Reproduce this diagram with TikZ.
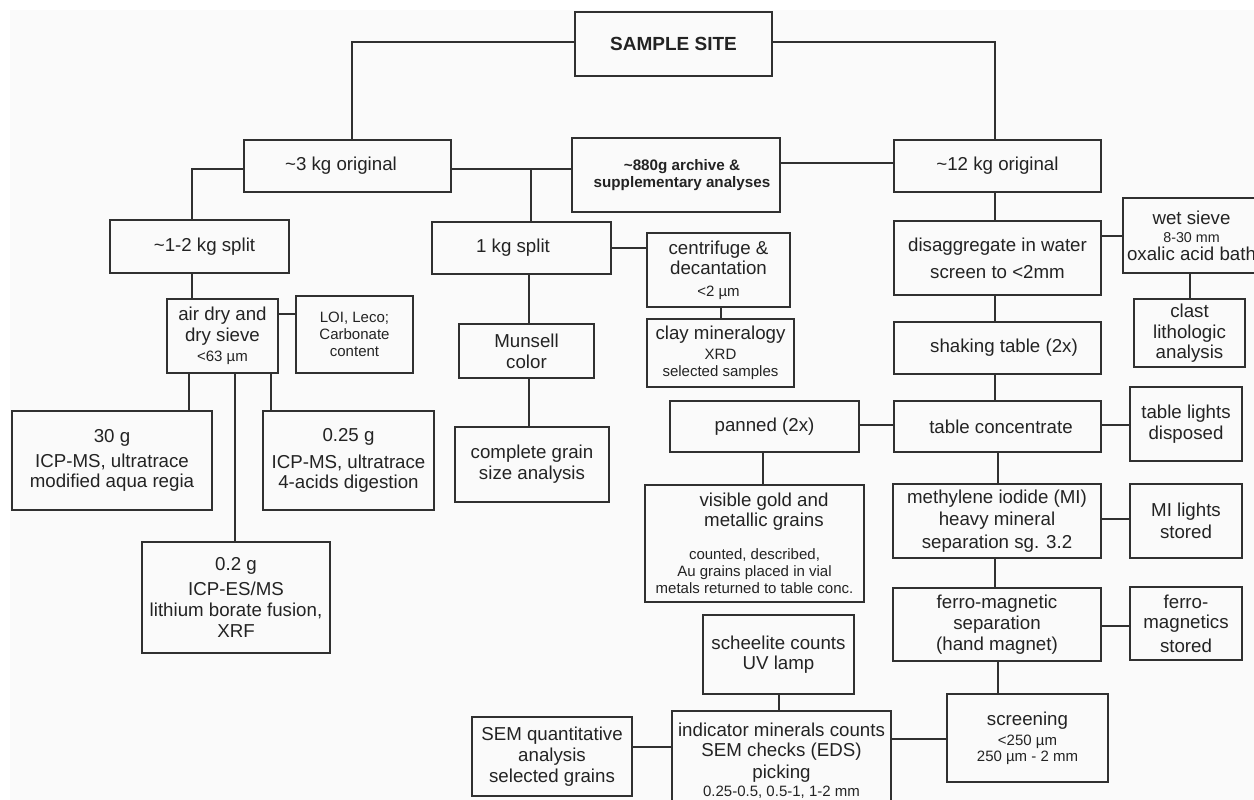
\documentclass[tikz,border=0pt]{standalone}
\usepackage{fontspec}
\setmainfont{Liberation Sans}
\definecolor{linec}{RGB}{48,48,48}
\definecolor{textc}{RGB}{35,35,35}
\definecolor{bgc}{RGB}{250,250,250}
\newcommand\fbig{\fontsize{18.7}{21}\selectfont}
\newcommand\fsm{\fontsize{15}{17}\selectfont}
\newcommand\fxs{\fontsize{14.3}{17}\selectfont}
\tikzset{
  box/.style={draw=linec, line width=1.4pt, inner sep=0pt, outer sep=0pt, align=center, text=textc, font=\fbig},
  conn/.style={draw=linec, line width=1.4pt},
}
\begin{document}
\begin{tikzpicture}[x=1pt,y=-1pt]
\path[use as bounding box] (0,0) rectangle (1254,800);
\clip (0,0) rectangle (1254,800);
\fill[bgc] (10,10) rectangle (1254,800);

\node[box, minimum width=197pt, minimum height=64pt, font=\fontsize{19}{21}\selectfont\bfseries] (ss) at (673.5,44) {SAMPLE SITE};
\node[box, minimum width=207pt, minimum height=52pt] (o3) at (347.5,166) {\textasciitilde3 kg original\kern13pt};
\node[box, minimum width=208pt, minimum height=74pt, font=\fontsize{15.2}{17}\selectfont\bfseries] (a880) at (676,175) {\mbox{}\kern12pt\textasciitilde880g archive \&\\\mbox{}\kern12pt supplementary analyses};
\node[box, minimum width=207pt, minimum height=52pt] (o12) at (997.5,166) {\textasciitilde12 kg original};
\node[box, minimum width=179pt, minimum height=53pt] (s12) at (199.5,246.5) {\kern10pt\textasciitilde1-2 kg split};
\node[box, minimum width=179pt, minimum height=52pt] (s1) at (521.5,248) {1 kg split\kern17pt};
\node[box, minimum width=143pt, minimum height=74pt] (cen) at (718.5,270) {centrifuge \&\\[-1pt]decantation\\[1pt]{\fsm <2 µm}};
\node[box, minimum width=147pt, minimum height=68pt] (clay) at (720.5,353) {clay mineralogy\\[-1pt]{\fsm XRD}\\[-4pt]{\fsm selected samples}};
\node[box, minimum width=207pt, minimum height=74pt] (dis) at (997.5,258) {disaggregate in water\\[6pt]screen to <2mm};
\node[box, minimum width=137pt, minimum height=75pt] (wet) at (1191.5,235.5) {wet sieve\\[-3pt]{\fxs 8-30 mm}\\[-3pt]oxalic acid bath};
\node[box, minimum width=111pt, minimum height=74pt] (air) at (222.5,336) {air dry and\\dry sieve\\[-1pt]{\fsm <63 µm}};
\node[box, line width=2.3pt, minimum width=117pt, minimum height=77pt, font=\fsm] (loi) at (354.5,334.5) {LOI, Leco;\\Carbonate\\content};
\node[box, minimum width=135pt, minimum height=54pt] (mun) at (526.5,351) {Munsell\\color};
\node[box, minimum width=111pt, minimum height=68pt] (clast) at (1189.5,333) {clast\\lithologic\\[-1pt]analysis};
\node[box, minimum width=207pt, minimum height=52pt] (shk) at (997.5,348) {\kern13pt shaking table (2x)};
\node[box, minimum width=200pt, minimum height=99pt] (g30) at (112,460.5) {30 g\\[4pt]ICP-MS, ultratrace\\[-1pt]modified aqua regia};
\node[box, minimum width=171pt, minimum height=99pt] (g025) at (348.5,460.5) {0.25 g\\[6pt]ICP-MS, ultratrace\\[-1pt]4-acids digestion};
\node[box, minimum width=188pt, minimum height=111pt] (g02) at (236,597.5) {0.2 g\\[4pt]ICP-ES/MS\\lithium borate fusion,\\XRF};
\node[box, minimum width=154pt, minimum height=75pt] (cg) at (532,464.5) {complete grain\\size analysis};
\node[box, minimum width=189pt, minimum height=51pt] (pan) at (764.5,426.5) {panned (2x)};
\node[box, minimum width=207pt, minimum height=51pt] (tc) at (997.5,426.5) {\kern7pt table concentrate};
\node[box, minimum width=112pt, minimum height=74pt] (tl) at (1186,424) {table lights\\disposed};
\node[box, minimum width=219pt, minimum height=117pt] (vg) at (754.5,543.5) {\mbox{}\kern19pt visible gold and\\[-1pt]\mbox{}\kern19pt metallic grains\\[12pt]{\fsm counted, described,}\\[-4pt]{\fsm Au grains placed in vial}\\[-4pt]{\fsm metals returned to table conc.}};
\node[box, minimum width=208pt, minimum height=74pt] (mi) at (997,521) {methylene iodide (MI)\\[1pt]heavy mineral\\[2pt]separation sg. 3.2};
\node[box, minimum width=112pt, minimum height=74pt] (mil) at (1186,521) {MI lights\\[1pt]stored};
\node[box, minimum width=208pt, minimum height=73pt] (fm) at (997,624.5) {ferro-magnetic\\separation\\(hand magnet)};
\node[box, minimum width=112pt, minimum height=73pt] (fms) at (1186,623.5) {ferro-\\[-1pt]magnetics\\[3pt]stored};
\node[box, minimum width=151pt, minimum height=79pt] (sch) at (778.5,654.5) {scheelite counts\\[-1pt]UV lamp};
\node[box, minimum width=161pt, minimum height=88pt] (scr) at (1027.5,738) {screening\\[-1pt]{\fsm <250 µm}\\[-5pt]{\fsm 250 µm - 2 mm}};
\node[box, minimum width=219pt, minimum height=99pt] (ind) at (781.5,760.5) {indicator minerals counts\\[-1pt]SEM checks (EDS)\\[1pt]picking\\[-3pt]{\fsm 0.25-0.5, 0.5-1, 1-2 mm}};
\node[box, minimum width=160pt, minimum height=79pt] (sem) at (552,756.5) {SEM quantitative\\analysis\\selected grains};

\draw[conn] (ss.west |- 0,42) -| (o3.north -| 352,0);
\draw[conn] (ss.east |- 0,42) -| (o12.north -| 995,0);
\draw[conn] (o3.west |- 0,169) -| (s12.north -| 192,0);
\draw[conn] (o3.east |- 0,169) -- (a880.west |- 0,169);
\coordinate (j1) at (531,169);
\draw[conn] (j1) -- (s1.north -| j1);
\draw[conn] (a880.east |- 0,163) -- (o12.west |- 0,163);
\draw[conn] (s1.east |- 0,248) -- (cen.west |- 0,248);
\draw[conn] (cen.south -| 721,0) -- (clay.north -| 721,0);
\draw[conn] (s1.south -| 529,0) -- (mun.north -| 529,0);
\draw[conn] (mun.south -| 529,0) -- (cg.north -| 529,0);
\draw[conn] (s12.south -| 192,0) -- (air.north -| 192,0);
\draw[conn] (air.east |- 0,314) -- (loi.west |- 0,314);
\draw[conn] (air.south -| 189,0) -- (g30.north -| 189,0);
\draw[conn] (air.south -| 235,0) -- (g02.north -| 235,0);
\draw[conn] (air.south -| 271,0) -- (g025.north -| 271,0);
\draw[conn] (o12.south -| 995,0) -- (dis.north -| 995,0);
\draw[conn] (dis.east |- 0,236) -- (wet.west |- 0,236);
\draw[conn] (wet.south -| 1190,0) -- (clast.north -| 1190,0);
\draw[conn] (dis.south -| 995,0) -- (shk.north -| 995,0);
\draw[conn] (shk.south -| 995,0) -- (tc.north -| 995,0);
\draw[conn] (tc.west |- 0,425) -- (pan.east |- 0,425);
\draw[conn] (tc.east |- 0,425) -- (tl.west |- 0,425);
\draw[conn] (pan.south -| 763,0) -- (vg.north -| 763,0);
\draw[conn] (tc.south -| 998,0) -- (mi.north -| 998,0);
\draw[conn] (mi.east |- 0,519) -- (mil.west |- 0,519);
\draw[conn] (mi.south -| 995,0) -- (fm.north -| 995,0);
\draw[conn] (fm.east |- 0,626) -- (fms.west |- 0,626);
\draw[conn] (fm.south -| 998,0) -- (scr.north -| 998,0);
\draw[conn] (scr.west |- 0,739) -- (ind.east |- 0,739);
\draw[conn] (sch.south -| 779,0) -- (ind.north -| 779,0);
\draw[conn] (sem.east |- 0,747) -- (ind.west |- 0,747);
\end{tikzpicture}
\end{document}
